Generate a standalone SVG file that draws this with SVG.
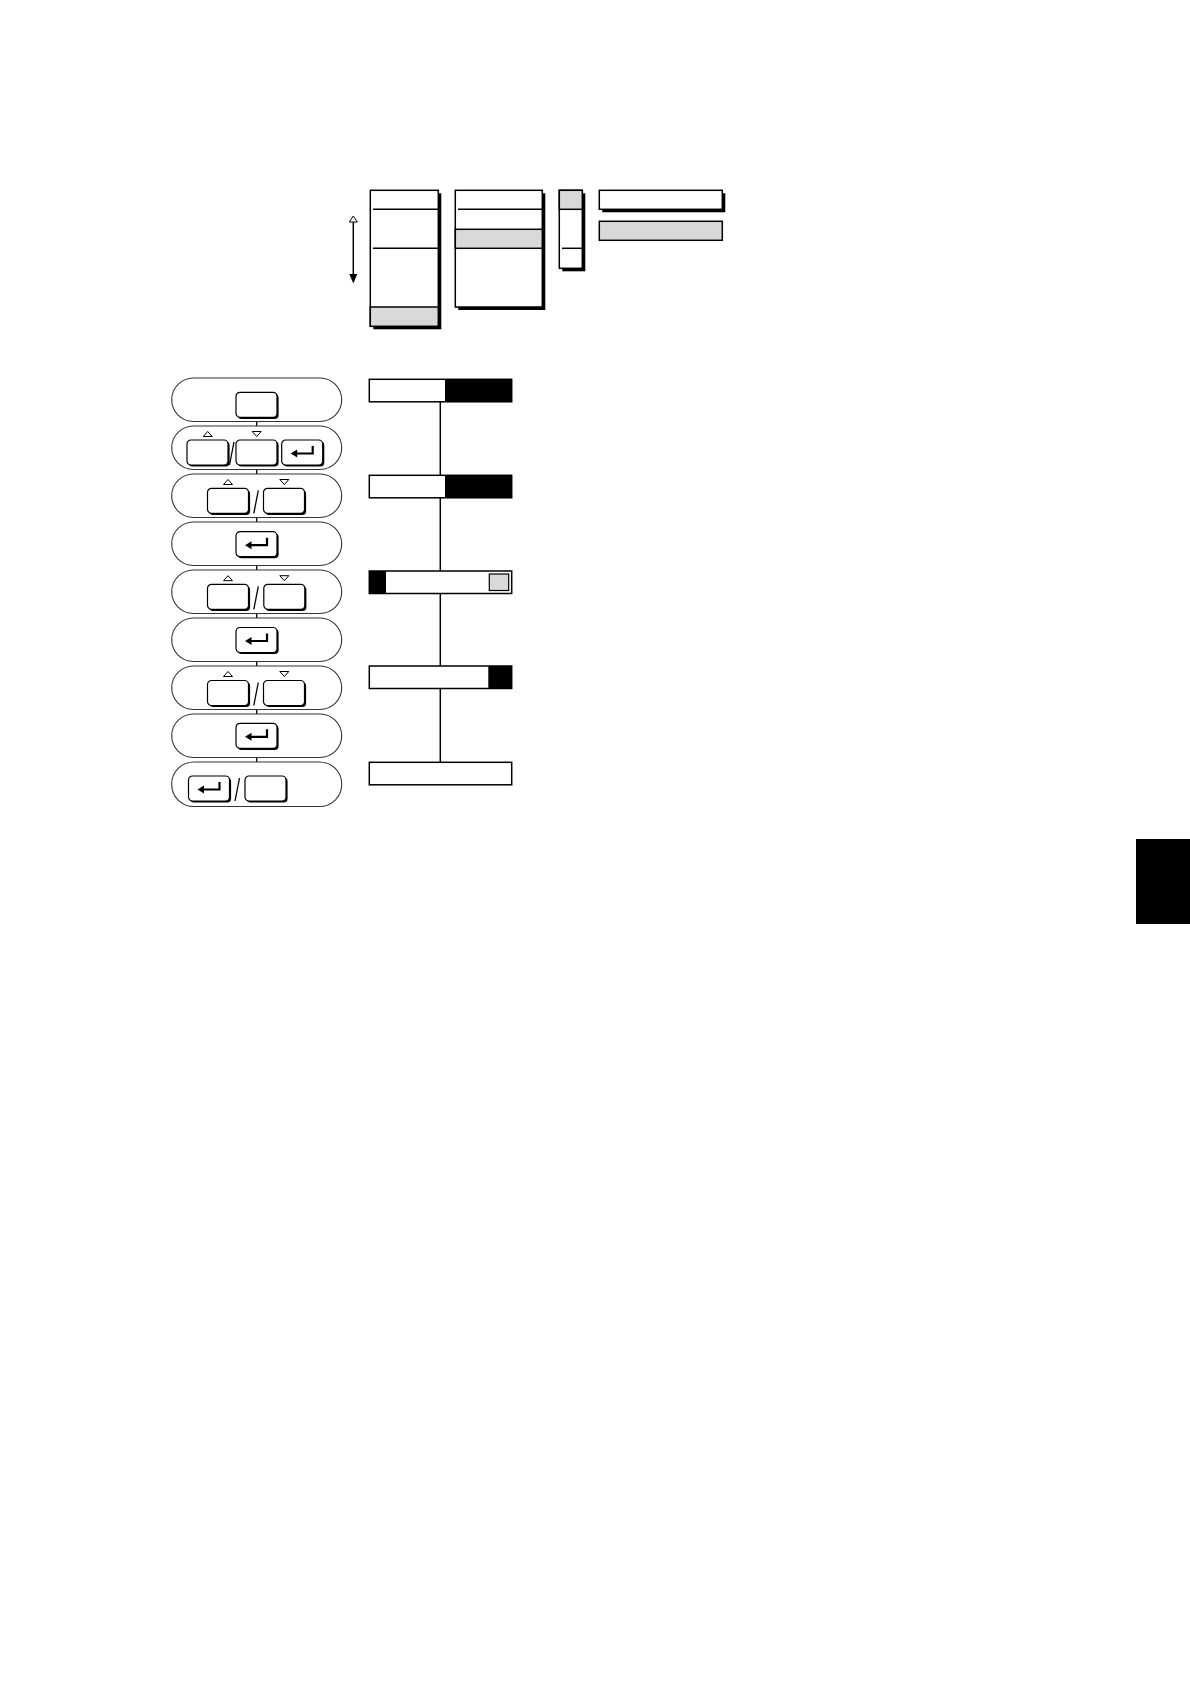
<svg xmlns="http://www.w3.org/2000/svg" width="1190" height="1684" viewBox="0 0 1190 1684">
<style>
.pill{fill:#fff;stroke:#333;stroke-width:1.1}
.btn{fill:#fff;stroke:#000;stroke-width:1.2}
.sh{fill:#000}
.box{fill:#fff;stroke:#000;stroke-width:1.5}
.gray{fill:#d9d9d9;stroke:#000;stroke-width:1.5}
.ln{stroke:#000;stroke-width:1.5;fill:none}
.tri{fill:#fff;stroke:#000;stroke-width:1}
.ent{fill:none;stroke:#000;stroke-width:2.2}
.con{stroke:#000;stroke-width:1.3;fill:none}
</style>
<defs>
<g id="key">
<rect class="sh" x="1.6" y="1.6" width="41" height="25" rx="4"/>
<rect class="btn" x="0" y="0" width="41" height="25" rx="4"/>
</g>
<g id="enter">
<path class="ent" d="M13 13.5 H31 V6"/>
<polygon points="9,13.5 15.5,9.5 15.5,17.5" fill="#000"/>
</g>
<polygon id="up" class="tri" points="-4.5,5 4.5,5 0,0"/>
<polygon id="down" class="tri" points="-4.5,0 4.5,0 0,5"/>
</defs>
<rect x="0" y="0" width="1190" height="1684" fill="#fff"/>

<g id="legend">
<g id="scroll-arrow">
<polygon class="tri" points="349.3,222 357.3,222 353.3,216"/>
<line class="ln" x1="353.3" y1="222" x2="353.3" y2="276"/>
<polygon points="349.3,274 357.3,274 353.3,283.5" fill="#000"/>
</g>
<g id="menu-list">
<rect class="sh" x="373.3" y="193.3" width="68" height="136"/>
<rect class="box" x="370.3" y="190.3" width="68" height="136"/>
<rect class="gray" x="370.3" y="307" width="68" height="19.3"/>
<line class="ln" x1="373" y1="209.3" x2="438.3" y2="209.3"/>
<line class="ln" x1="373" y1="248.3" x2="438.3" y2="248.3"/>
</g>
<g id="submenu-list">
<rect class="sh" x="458.3" y="193.3" width="87" height="116.7"/>
<rect class="box" x="455.3" y="190.3" width="87" height="116.7"/>
<rect class="gray" x="455.3" y="229.3" width="87" height="19"/>
<line class="ln" x1="458" y1="209.3" x2="542.3" y2="209.3"/>
</g>
<g id="scroll-bar">
<rect class="sh" x="562.3" y="193.3" width="23" height="78"/>
<rect class="box" x="559.3" y="190.3" width="23" height="78"/>
<rect class="gray" x="559.3" y="190.3" width="23" height="19"/>
<line class="ln" x1="562" y1="248.3" x2="582.3" y2="248.3"/>
</g>
<g id="field-normal">
<rect class="sh" x="602.3" y="193.3" width="123" height="19"/>
<rect class="box" x="599.3" y="190.3" width="123" height="19"/>
</g>
<g id="field-selected">
<rect class="gray" x="599.3" y="221.3" width="123" height="19"/>
</g>
</g>

<g id="connectors">
<line class="con" x1="256.7" y1="421.5" x2="256.7" y2="426"/>
<line class="con" x1="256.7" y1="469.5" x2="256.7" y2="474"/>
<line class="con" x1="256.7" y1="517.5" x2="256.7" y2="522"/>
<line class="con" x1="256.7" y1="565.5" x2="256.7" y2="570"/>
<line class="con" x1="256.7" y1="613.5" x2="256.7" y2="618"/>
<line class="con" x1="256.7" y1="661.5" x2="256.7" y2="666"/>
<line class="con" x1="256.7" y1="709.5" x2="256.7" y2="714"/>
<line class="con" x1="256.7" y1="757.5" x2="256.7" y2="762"/>
<line class="ln" x1="440.3" y1="401.8" x2="440.3" y2="475.3"/>
<line class="ln" x1="440.3" y1="497.8" x2="440.3" y2="571"/>
<line class="ln" x1="440.3" y1="593.5" x2="440.3" y2="666"/>
<line class="ln" x1="440.3" y1="688.5" x2="440.3" y2="762.3"/>
</g>

<g id="step1">
<rect class="pill" x="171.7" y="378" width="170" height="43.5" rx="21.75"/>
<use href="#key" x="236" y="392.3"/>
</g>
<g id="step2">
<rect class="pill" x="171.7" y="426" width="170" height="43.5" rx="21.75"/>
<use href="#up" x="207.7" y="431.5"/>
<use href="#down" x="256.7" y="431.5"/>
<use href="#key" x="187" y="440"/>
<line class="con" x1="234" y1="442" x2="229.5" y2="465"/>
<use href="#key" x="236" y="440"/>
<use href="#key" x="281.7" y="440"/>
<use href="#enter" x="281.7" y="440"/>
</g>
<g id="step3">
<rect class="pill" x="171.7" y="474" width="170" height="43.5" rx="21.75"/>
<use href="#up" x="228" y="479.5"/>
<use href="#down" x="284.3" y="479.5"/>
<use href="#key" x="207.5" y="488.3"/>
<line class="con" x1="258.3" y1="490.3" x2="253.8" y2="513.3"/>
<use href="#key" x="263.5" y="488.3"/>
</g>
<g id="step4">
<rect class="pill" x="171.7" y="522" width="170" height="43.5" rx="21.75"/>
<use href="#key" x="236" y="531.7"/>
<use href="#enter" x="236" y="531.7"/>
</g>
<g id="step5">
<rect class="pill" x="171.7" y="570" width="170" height="43.5" rx="21.75"/>
<use href="#up" x="228" y="575.7"/>
<use href="#down" x="284.3" y="575.7"/>
<use href="#key" x="207.5" y="584.3"/>
<line class="con" x1="258.3" y1="586.3" x2="253.8" y2="609.3"/>
<use href="#key" x="263.8" y="584.3"/>
</g>
<g id="step6">
<rect class="pill" x="171.7" y="618" width="170" height="43.5" rx="21.75"/>
<use href="#key" x="236" y="627.5"/>
<use href="#enter" x="236" y="627.5"/>
</g>
<g id="step7">
<rect class="pill" x="171.7" y="666" width="170" height="43.5" rx="21.75"/>
<use href="#up" x="228" y="671.5"/>
<use href="#down" x="284.3" y="671.5"/>
<use href="#key" x="207.5" y="680.5"/>
<line class="con" x1="258.3" y1="682.5" x2="253.8" y2="705.5"/>
<use href="#key" x="263.5" y="680.5"/>
</g>
<g id="step8">
<rect class="pill" x="171.7" y="714" width="170" height="43.5" rx="21.75"/>
<use href="#key" x="236" y="723.3"/>
<use href="#enter" x="236" y="723.3"/>
</g>
<g id="step9">
<rect class="pill" x="171.7" y="762" width="170" height="44.5" rx="22"/>
<use href="#key" x="188.5" y="776"/>
<use href="#enter" x="188.5" y="776"/>
<line class="con" x1="239.5" y1="778" x2="235" y2="801"/>
<use href="#key" x="245" y="776"/>
</g>

<g id="display1">
<rect class="box" x="369.3" y="379.3" width="142.4" height="22.5"/>
<rect x="445" y="379.3" width="66.7" height="22.5" fill="#000"/>
</g>
<g id="display2">
<rect class="box" x="369.3" y="475.3" width="142.4" height="22.5"/>
<rect x="445" y="475.3" width="66.7" height="22.5" fill="#000"/>
</g>
<g id="display3">
<rect class="box" x="369.3" y="571" width="142.4" height="22.5"/>
<rect x="369.3" y="571" width="16.7" height="22.5" fill="#000"/>
<rect class="gray" x="489.3" y="574" width="19.4" height="16.5" style="stroke-width:1.2"/>
</g>
<g id="display4">
<rect class="box" x="369.3" y="666" width="142.4" height="22.5"/>
<rect x="488.3" y="666" width="23.4" height="22.5" fill="#000"/>
</g>
<g id="display5">
<rect class="box" x="369.3" y="762.3" width="142.4" height="22.5"/>
</g>

<rect id="tab" x="1136" y="839" width="54" height="85" fill="#000"/>
</svg>
